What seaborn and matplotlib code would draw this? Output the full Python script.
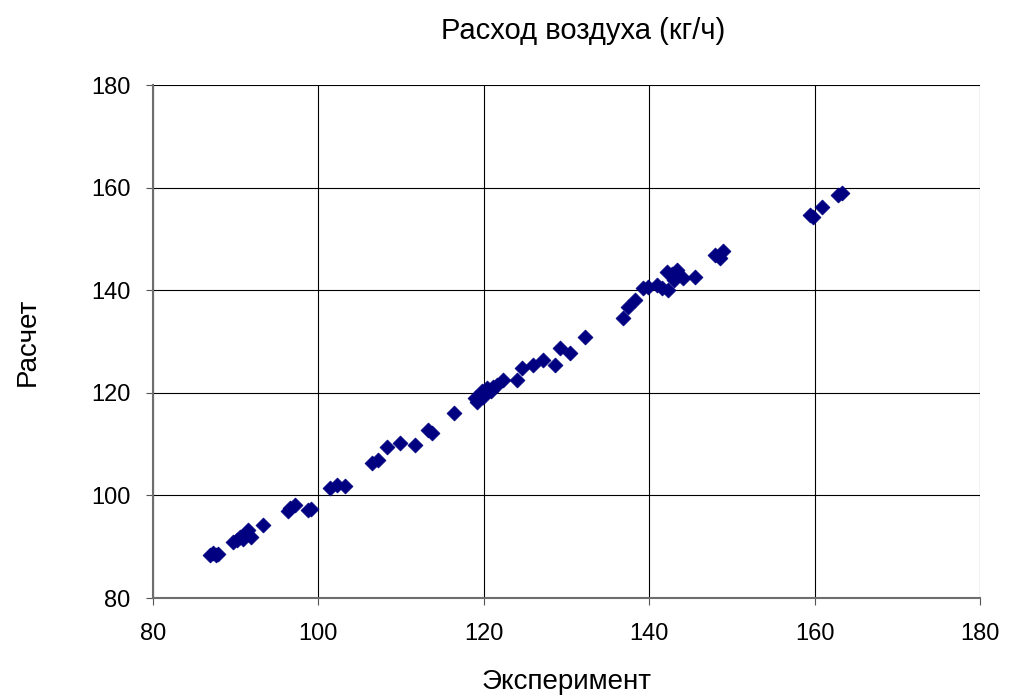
import matplotlib
matplotlib.use("Agg")
import matplotlib.pyplot as plt
import seaborn as sns
import pandas as pd

# Measured vs. calculated air flow, kg/h
experiment = [
    86.9, 87.2, 87.6, 89.7, 90.2, 90.5, 90.9, 91.2, 91.5, 91.8, 93.3,
    96.3, 96.6, 97.2, 98.7, 99.1, 101.4, 102.2, 103.2, 106.5, 107.2,
    108.3, 109.9, 111.7, 113.3, 113.7, 116.4, 119.2, 119.5, 119.8, 120.4,
    121.1, 121.6, 122.3, 124.0, 124.6, 126.0, 127.2, 128.6, 129.2, 130.4,
    132.2, 136.8, 137.4, 138.3, 139.3, 139.9, 140.9, 142.3, 142.2, 143.4,
    144.1, 145.5, 148.0, 148.6, 148.9, 159.4, 159.8, 160.9, 162.8, 163.3,
    119.0, 119.9, 120.9, 141.5, 142.8, 143.0, 91.0, 87.9,
]
calculation = [
    88.4, 88.8, 88.4, 90.9, 91.4, 91.9, 91.6, 92.4, 93.3, 91.8, 94.2,
    96.9, 97.5, 98.1, 97.2, 97.3, 101.4, 102.0, 101.8, 106.3, 106.9,
    109.4, 110.2, 109.8, 112.7, 112.2, 116.1, 118.2, 119.6, 120.4, 120.9,
    121.1, 121.5, 122.5, 122.5, 124.8, 125.4, 126.4, 125.4, 128.7, 127.8,
    130.9, 134.6, 136.7, 138.1, 140.4, 140.6, 141.0, 140.0, 143.5, 143.9,
    142.4, 142.6, 146.9, 146.3, 147.6, 154.7, 154.3, 156.2, 158.6, 158.9,
    118.9, 119.2, 120.3, 140.5, 143.2, 142.0, 92.3, 88.6,
]

title = "Расход воздуха (кг/ч)"
x_label = "Эксперимент"
y_label = "Расчет"
ticks = [80, 100, 120, 140, 160, 180]

sns.set_style("white")
plt.rcParams["font.family"] = ["Liberation Sans", "DejaVu Sans"]
plt.rcParams["text.color"] = "black"
plt.rcParams["axes.labelcolor"] = "black"

df = pd.DataFrame({"x": experiment, "y": calculation})

fig = plt.figure(figsize=(10.11, 6.97), dpi=100)
ax = fig.add_axes([0.1513, 0.142, 0.8180, 0.736])

sns.scatterplot(data=df, x="x", y="y", ax=ax, marker="D", s=58,
                color="#000080", edgecolor="#000080", linewidth=0.5, zorder=3)

ax.set_xlim(80, 180)
ax.set_ylim(80, 180)
ax.set_xticks(ticks)
ax.set_yticks(ticks)
ax.grid(True, color="black", linewidth=0.8)
ax.set_axisbelow(True)

for side in ("top", "right"):
    ax.spines[side].set_visible(False)
for side in ("left", "bottom"):
    ax.spines[side].set_color("#6e6e6e")
    ax.spines[side].set_linewidth(1.5)

ax.tick_params(axis="both", direction="out", length=5, width=0.8,
               color="#555555", labelcolor="black", labelsize=17)
ax.tick_params(axis="both", which="both", left=True, bottom=True)
ax.tick_params(axis="x", pad=13)
ax.tick_params(axis="y", pad=11)

ax.set_title(title, fontsize=21, pad=33, color="black", x=0.52)
ax.set_xlabel(x_label, fontsize=20, labelpad=17)
ax.set_ylabel(y_label, fontsize=20, labelpad=36)

fig.savefig("out.png", dpi=100)
